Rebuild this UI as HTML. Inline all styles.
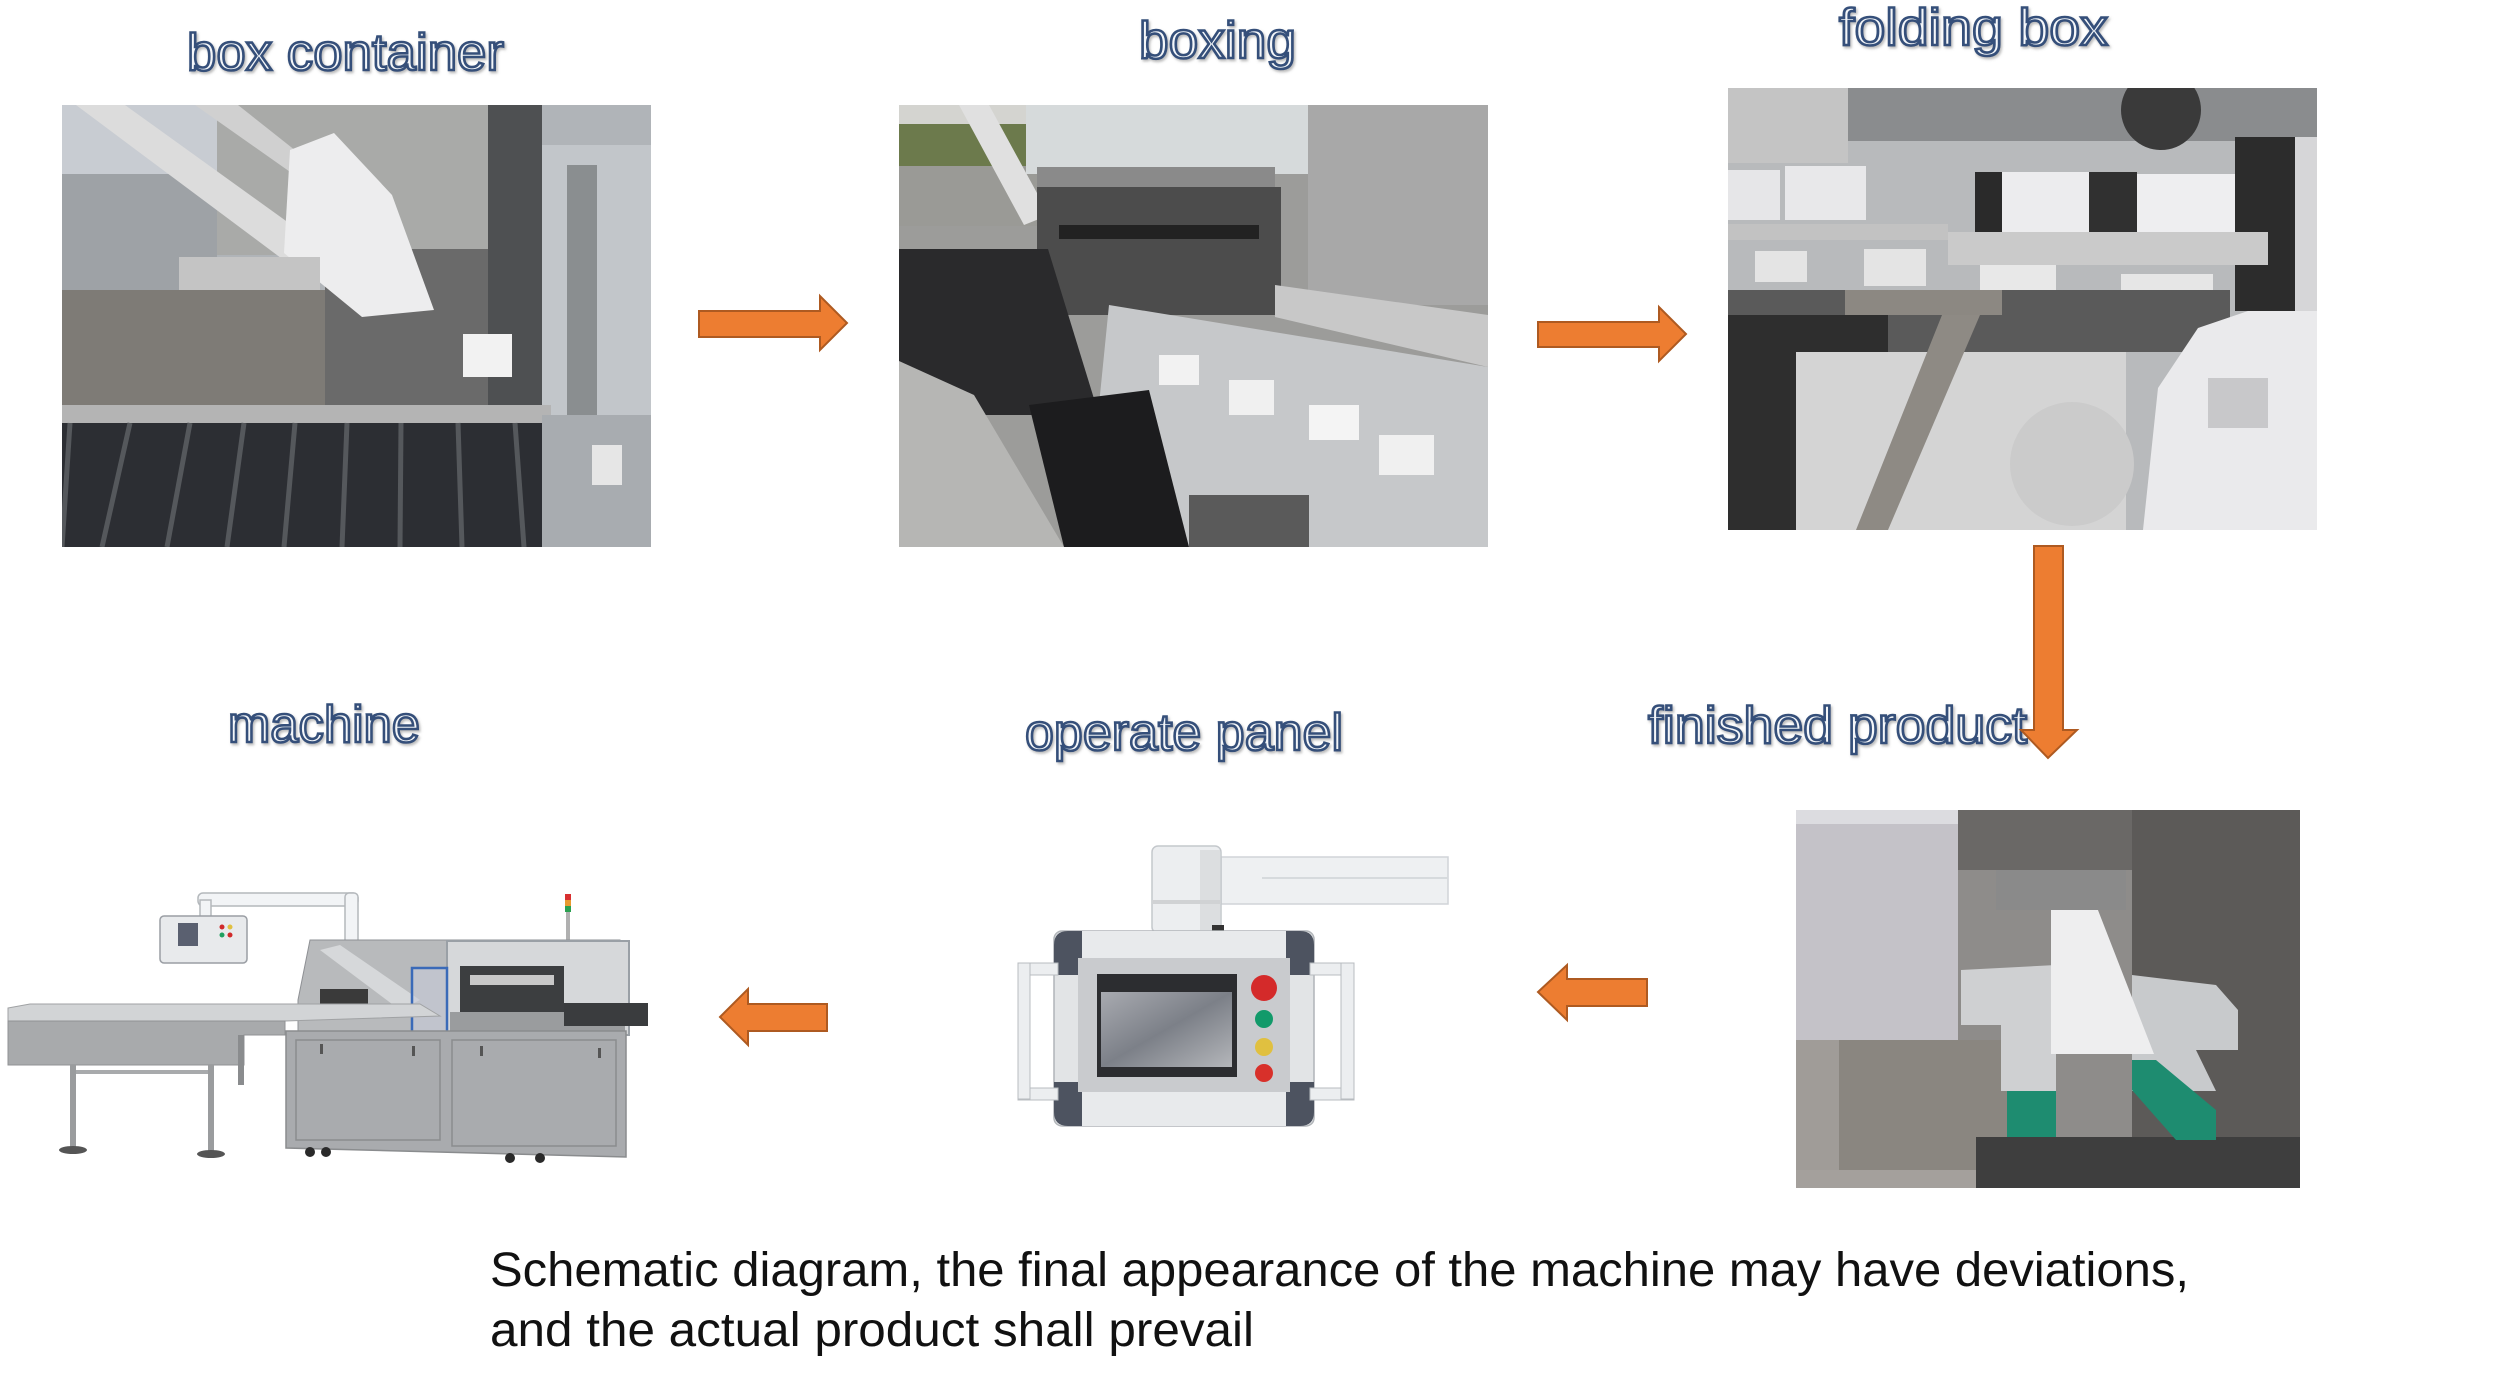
<!DOCTYPE html>
<html><head><meta charset="utf-8"><style>
html,body{margin:0;padding:0;background:#fff;width:2505px;height:1378px;overflow:hidden}
svg{display:block}
.t{font-family:"Liberation Sans",Arial,sans-serif;font-size:52px;fill:#f4f6f9;stroke:#34507a;stroke-width:2.6px;filter:url(#sh)}
.b{font-family:"Liberation Sans",Arial,sans-serif;font-size:48px;fill:#111}
.ar{fill:#ED7D31;stroke:#AE5A21;stroke-width:2}
</style></head><body>
<svg width="2505" height="1378" viewBox="0 0 2505 1378" xmlns="http://www.w3.org/2000/svg">
<defs>
<filter id="sh" x="-5%" y="-20%" width="110%" height="150%"><feDropShadow dx="1.5" dy="2" stdDeviation="1.2" flood-color="#777" flood-opacity="0.5"/></filter>
<clipPath id="c1"><rect x="0" y="0" width="589" height="442"/></clipPath>
<clipPath id="c4"><rect x="0" y="0" width="504" height="378"/></clipPath>
<linearGradient id="scr" x1="0" y1="0" x2="1" y2="1"><stop offset="0" stop-color="#a8aab0"/><stop offset="0.5" stop-color="#7c8088"/><stop offset="1" stop-color="#b4b6ba"/></linearGradient>
</defs>
<rect width="2505" height="1378" fill="#fff"/>

<!-- Titles -->
<text class="t" x="187" y="70" textLength="317" lengthAdjust="spacingAndGlyphs">box container</text>
<text class="t" x="1139" y="58" textLength="157" lengthAdjust="spacingAndGlyphs">boxing</text>
<text class="t" x="1839" y="45" textLength="269" lengthAdjust="spacingAndGlyphs">folding box</text>
<text class="t" x="228" y="742" textLength="192" lengthAdjust="spacingAndGlyphs">machine</text>
<text class="t" x="1025" y="750" textLength="318" lengthAdjust="spacingAndGlyphs">operate panel</text>
<text class="t" x="1648" y="743" textLength="379" lengthAdjust="spacingAndGlyphs">finished product</text>

<!-- Photo 1: box container -->
<g transform="translate(62,105)" clip-path="url(#c1)">
<rect width="589" height="442" fill="#b0b4b8"/>
<rect x="0" y="0" width="155" height="69" fill="#c8ccd2"/>
<polygon points="0,69 155,69 155,185 0,185" fill="#9ea2a6"/>
<rect x="155" y="0" width="271" height="150" fill="#a9aaa8"/>
<rect x="426" y="0" width="54" height="310" fill="#4e5052"/>
<rect x="480" y="40" width="109" height="402" fill="#c2c6ca"/>
<rect x="505" y="60" width="30" height="300" fill="#8a8e90"/>
<polygon points="0,185 269,185 269,310 0,310" fill="#7e7b76"/>
<polygon points="263,144 426,144 426,310 263,310" fill="#6a6a6a"/>
<rect x="401" y="229" width="49" height="43" fill="#f2f2f2"/>
<polygon points="14,0 63,0 263,144 235,165" fill="#dcdcdc"/>
<polygon points="133,0 176,0 263,69 231,69" fill="#d0d0d0"/>
<polygon points="228,45 272,28 330,90 372,205 300,212 222,148" fill="#ededee"/>
<rect x="117" y="152" width="141" height="33" fill="#c4c4c4"/>
<rect x="0" y="300" width="489" height="18" fill="#b4b4b4"/>
<rect x="0" y="318" width="489" height="124" fill="#2c2e33"/>
<g stroke="#55585c" stroke-width="5">
<line x1="8" y1="318" x2="0" y2="442"/><line x1="68" y1="318" x2="40" y2="442"/><line x1="128" y1="318" x2="105" y2="442"/><line x1="182" y1="318" x2="165" y2="442"/><line x1="233" y1="318" x2="222" y2="442"/><line x1="285" y1="318" x2="280" y2="442"/><line x1="339" y1="318" x2="338" y2="442"/><line x1="396" y1="318" x2="400" y2="442"/><line x1="453" y1="318" x2="462" y2="442"/>
</g>
<rect x="480" y="310" width="109" height="132" fill="#a8acb0"/>
<rect x="530" y="340" width="30" height="40" fill="#e6e6e6"/>
</g>

<!-- Photo 2: boxing -->
<g transform="translate(899,105)" clip-path="url(#c1)">
<rect width="589" height="442" fill="#9c9c9a"/>
<rect x="0" y="0" width="138" height="19" fill="#d4d4d0"/>
<rect x="0" y="19" width="138" height="42" fill="#6c7a4c"/>
<rect x="0" y="61" width="138" height="60" fill="#9a9a96"/>
<polygon points="60,0 90,0 150,110 125,120" fill="#e0e0e0"/>
<rect x="127" y="0" width="282" height="69" fill="#d6dadb"/>
<rect x="138" y="62" width="238" height="20" fill="#8a8a8a"/>
<rect x="409" y="0" width="180" height="200" fill="#a8a8a8"/>
<rect x="138" y="82" width="244" height="128" fill="#4c4c4c"/>
<rect x="160" y="120" width="200" height="14" fill="#222"/>
<polygon points="0,144 149,144 200,310 0,310" fill="#2a2a2c"/>
<polygon points="376,180 589,210 589,262 376,212" fill="#c8c8c8"/>
<polygon points="210,200 589,262 589,442 290,442 200,300" fill="#c6c8ca"/>
<rect x="260" y="250" width="40" height="30" fill="#f2f2f2"/><rect x="330" y="275" width="45" height="35" fill="#f0f0f0"/><rect x="410" y="300" width="50" height="35" fill="#f4f4f4"/><rect x="480" y="330" width="55" height="40" fill="#f0f0f0"/>
<polygon points="0,256 75,290 165,442 0,442" fill="#b6b6b4"/>
<polygon points="130,300 250,285 290,442 165,442" fill="#1c1c1e"/>
<rect x="290" y="390" width="120" height="52" fill="#5a5a5a"/>
</g>

<!-- Photo 3: folding box -->
<g transform="translate(1728,88)" clip-path="url(#c1)">
<rect width="589" height="442" fill="#b8babc"/>
<rect x="0" y="0" width="589" height="53" fill="#8a8c8e"/>
<rect x="0" y="0" width="120" height="75" fill="#c4c4c4"/>
<circle cx="433" cy="22" r="40" fill="#3a3a3a"/>
<rect x="507" y="49" width="82" height="174" fill="#2c2c2c"/>
<rect x="567" y="49" width="22" height="174" fill="#d6d6d8"/>
<rect x="247" y="84" width="27" height="73" fill="#2a2a2a"/>
<rect x="361" y="84" width="48" height="73" fill="#303030"/>
<rect x="0" y="82" width="52" height="50" fill="#e6e6e8"/>
<rect x="57" y="78" width="81" height="54" fill="#e8e8ea"/>
<rect x="274" y="84" width="87" height="73" fill="#ececee"/>
<rect x="409" y="86" width="98" height="75" fill="#eeeef0"/>
<rect x="0" y="136" width="220" height="16" fill="#c2c2c2"/>
<rect x="220" y="144" width="320" height="33" fill="#cacaca"/>
<rect x="27" y="163" width="52" height="31" fill="#e4e4e4"/>
<rect x="136" y="161" width="62" height="37" fill="#e4e4e4"/>
<rect x="252" y="177" width="76" height="33" fill="#e8e8e8"/>
<rect x="393" y="186" width="92" height="33" fill="#e6e6e6"/>
<rect x="0" y="202" width="502" height="62" fill="#5a5a5a"/>
<rect x="0" y="227" width="160" height="215" fill="#2e2e2e"/>
<rect x="68" y="264" width="330" height="178" fill="#d4d4d4"/>
<circle cx="344" cy="376" r="62" fill="#cbcbcb"/>
<rect x="117" y="202" width="157" height="25" fill="#8c8882"/>
<polygon points="214,227 252,227 160,442 128,442" fill="#8e8a84"/>
<polygon points="415,442 430,300 470,240 520,223 589,223 589,442" fill="#eaeaec"/>
<rect x="480" y="290" width="60" height="50" fill="#c8c8ca"/>
</g>

<!-- Photo 4: finished product -->
<g transform="translate(1796,810)" clip-path="url(#c4)">
<rect width="504" height="378" fill="#8e8c8a"/>
<rect x="162" y="0" width="342" height="60" fill="#6a6866"/>
<rect x="336" y="0" width="168" height="378" fill="#5c5a58"/>
<rect x="0" y="0" width="162" height="230" fill="#c4c2c8"/>
<rect x="0" y="0" width="162" height="14" fill="#dcdce0"/>
<rect x="0" y="230" width="43" height="148" fill="#a09c98"/>
<rect x="43" y="230" width="206" height="130" fill="#8a8680"/>
<rect x="0" y="360" width="249" height="18" fill="#a4a09c"/>
<rect x="180" y="327" width="324" height="51" fill="#3e3e3e"/>
<polygon points="165,160 260,155 260,281 205,281 205,215 165,215" fill="#cfd0d2"/>
<polygon points="336,165 420,175 442,200 442,240 400,240 420,281 336,281" fill="#c8cacc"/>
<polygon points="255,100 300,95 358,244 255,244" fill="#eeeeef"/>
<rect x="211" y="281" width="49" height="46" fill="#1e8c70"/>
<polygon points="336,250 360,250 420,300 420,330 380,330 336,280" fill="#1e8c70"/>
<rect x="200" y="60" width="130" height="40" fill="#8a8a8a"/>
</g>

<!-- Machine drawing -->
<g>
<rect x="565" y="894" width="6" height="6" fill="#d83030"/><rect x="565" y="900" width="6" height="6" fill="#e89a30"/><rect x="565" y="906" width="6" height="6" fill="#2aa050"/><rect x="566" y="912" width="4" height="28" fill="#b0b0b0"/>
<rect x="198" y="893" width="160" height="13" rx="5" fill="#f2f4f6" stroke="#b4b8bc" stroke-width="1.5"/>
<rect x="345" y="893" width="13" height="70" rx="4" fill="#f2f4f6" stroke="#b4b8bc" stroke-width="1.5"/>
<rect x="200" y="900" width="11" height="18" fill="#f2f4f6" stroke="#b4b8bc" stroke-width="1.5"/>
<rect x="160" y="916" width="87" height="47" rx="4" fill="#e8eaec" stroke="#9a9ea4" stroke-width="1.5"/>
<rect x="178" y="923" width="20" height="23" fill="#5a6070"/>
<circle cx="222" cy="927" r="2.5" fill="#d02a2a"/><circle cx="222" cy="935" r="2.5" fill="#20a060"/><circle cx="230" cy="927" r="2.5" fill="#e0c040"/><circle cx="230" cy="935" r="2.5" fill="#d02a2a"/>
<polygon points="298,1000 310,940 620,940 629,1035 298,1035" fill="#b8babc" stroke="#8e9094" stroke-width="1"/>
<polygon points="320,950 340,945 420,1000 400,1010" fill="#d6d8da"/>
<rect x="320" y="989" width="48" height="23" fill="#3a3a3a"/>
<rect x="447" y="941" width="182" height="94" fill="#d6d8da" stroke="#9aa0a6" stroke-width="2"/>
<rect x="460" y="966" width="104" height="46" fill="#3c3e40"/>
<rect x="470" y="975" width="84" height="10" fill="#c8c8c8"/>
<rect x="450" y="1012" width="175" height="20" fill="#9a9c9e"/>
<rect x="564" y="1003" width="84" height="23" fill="#3a3c3e"/>
<rect x="412" y="968" width="35" height="77" fill="#c6ccd8" fill-opacity="0.6" stroke="#3a6ab8" stroke-width="2.5"/>
<polygon points="8,1008 30,1004 420,1004 440,1016 285,1021 8,1022" fill="#d2d4d6" stroke="#a0a2a4" stroke-width="1"/>
<polygon points="8,1021 285,1021 285,1035 244,1035 244,1065 8,1065" fill="#a8aaac" stroke="#909294" stroke-width="1"/>
<rect x="238" y="1035" width="6" height="50" fill="#8a8c8e"/>
<rect x="70" y="1065" width="6" height="82" fill="#9a9c9e"/>
<rect x="208" y="1065" width="6" height="86" fill="#9a9c9e"/>
<rect x="76" y="1070" width="132" height="4" fill="#a8aaac"/>
<ellipse cx="73" cy="1150" rx="14" ry="4" fill="#555"/><ellipse cx="211" cy="1154" rx="14" ry="4" fill="#555"/>
<polygon points="286,1031 626,1031 626,1157 286,1148" fill="#a9abae" stroke="#8a8c8e" stroke-width="1.5"/>
<rect x="296" y="1040" width="144" height="100" fill="none" stroke="#8a8c8e" stroke-width="1.5"/>
<rect x="452" y="1040" width="164" height="106" fill="none" stroke="#8a8c8e" stroke-width="1.5"/>
<rect x="320" y="1044" width="3" height="10" fill="#555"/><rect x="412" y="1046" width="3" height="10" fill="#555"/><rect x="480" y="1046" width="3" height="10" fill="#555"/><rect x="598" y="1048" width="3" height="10" fill="#555"/>
<circle cx="310" cy="1152" r="5" fill="#2a2a2a"/><circle cx="326" cy="1152" r="5" fill="#2a2a2a"/><circle cx="510" cy="1158" r="5" fill="#2a2a2a"/><circle cx="540" cy="1158" r="5" fill="#2a2a2a"/>
</g>

<!-- Operate panel drawing -->
<g>
<rect x="1221" y="857" width="227" height="47" fill="#eef0f2" stroke="#d0d4d8" stroke-width="1.5"/>
<line x1="1262" y1="878" x2="1448" y2="878" stroke="#d6dadd" stroke-width="2"/>
<rect x="1152" y="846" width="69" height="87" rx="6" fill="#eceef0" stroke="#c4c8cc" stroke-width="1.5"/>
<rect x="1200" y="850" width="20" height="80" fill="#dcdee0"/>
<rect x="1152" y="900" width="69" height="4" fill="#d0d2d4"/>
<rect x="1212" y="925" width="12" height="8" fill="#333"/>
<rect x="1054" y="931" width="260" height="195" rx="8" fill="#e2e4e6" stroke="#b0b4b8" stroke-width="1.5"/>
<path d="M1054,945 q0,-14 14,-14 h14 v44 h-28 z" fill="#4d5360"/>
<path d="M1314,945 q0,-14 -14,-14 h-14 v44 h28 z" fill="#4d5360"/>
<path d="M1054,1112 q0,14 14,14 h14 v-44 h-28 z" fill="#4d5360"/>
<path d="M1314,1112 q0,14 -14,14 h-14 v-44 h28 z" fill="#4d5360"/>
<rect x="1082" y="931" width="204" height="27" fill="#e8eaec"/>
<rect x="1082" y="1092" width="204" height="34" fill="#e8eaec"/>
<rect x="1078" y="958" width="212" height="134" fill="#c9cbce"/>
<rect x="1097" y="974" width="140" height="103" fill="#2c2d30"/>
<rect x="1101" y="992" width="131" height="75" fill="url(#scr)"/>
<circle cx="1264" cy="988" r="13" fill="#d42a2a"/>
<circle cx="1264" cy="1019" r="9" fill="#129a6a"/>
<circle cx="1264" cy="1047" r="9" fill="#e0c040"/>
<circle cx="1264" cy="1073" r="9" fill="#d8302a"/>
<rect x="1018" y="963" width="40" height="12" fill="#eceef0" stroke="#b8bcc0" stroke-width="1"/>
<rect x="1018" y="1088" width="40" height="12" fill="#eceef0" stroke="#b8bcc0" stroke-width="1"/>
<rect x="1018" y="963" width="12" height="136" fill="#eceef0" stroke="#b8bcc0" stroke-width="1"/>
<rect x="1310" y="963" width="44" height="12" fill="#eceef0" stroke="#b8bcc0" stroke-width="1"/>
<rect x="1310" y="1088" width="44" height="12" fill="#eceef0" stroke="#b8bcc0" stroke-width="1"/>
<rect x="1341" y="963" width="13" height="136" fill="#eceef0" stroke="#b8bcc0" stroke-width="1"/>
</g>

<!-- Arrows -->
<polygon class="ar" points="699,311 820,311 820,296 847,323 820,350 820,337 699,337"/>
<polygon class="ar" points="1538,322 1659,322 1659,307 1686,334 1659,361 1659,347 1538,347"/>
<polygon class="ar" points="2034,546 2063,546 2063,730 2077,730 2048,758 2021,730 2034,730"/>
<polygon class="ar" points="1538,992 1567,965 1567,979 1647,979 1647,1006 1567,1006 1567,1020"/>
<polygon class="ar" points="720,1017 748,989 748,1004 827,1004 827,1031 748,1031 748,1045"/>

<!-- Bottom text -->
<text class="b" x="490" y="1286" textLength="1699" lengthAdjust="spacingAndGlyphs">Schematic diagram, the final appearance of the machine may have deviations,</text>
<text class="b" x="490" y="1346" textLength="764" lengthAdjust="spacingAndGlyphs">and the actual product shall prevail</text>
</svg>
</body></html>
